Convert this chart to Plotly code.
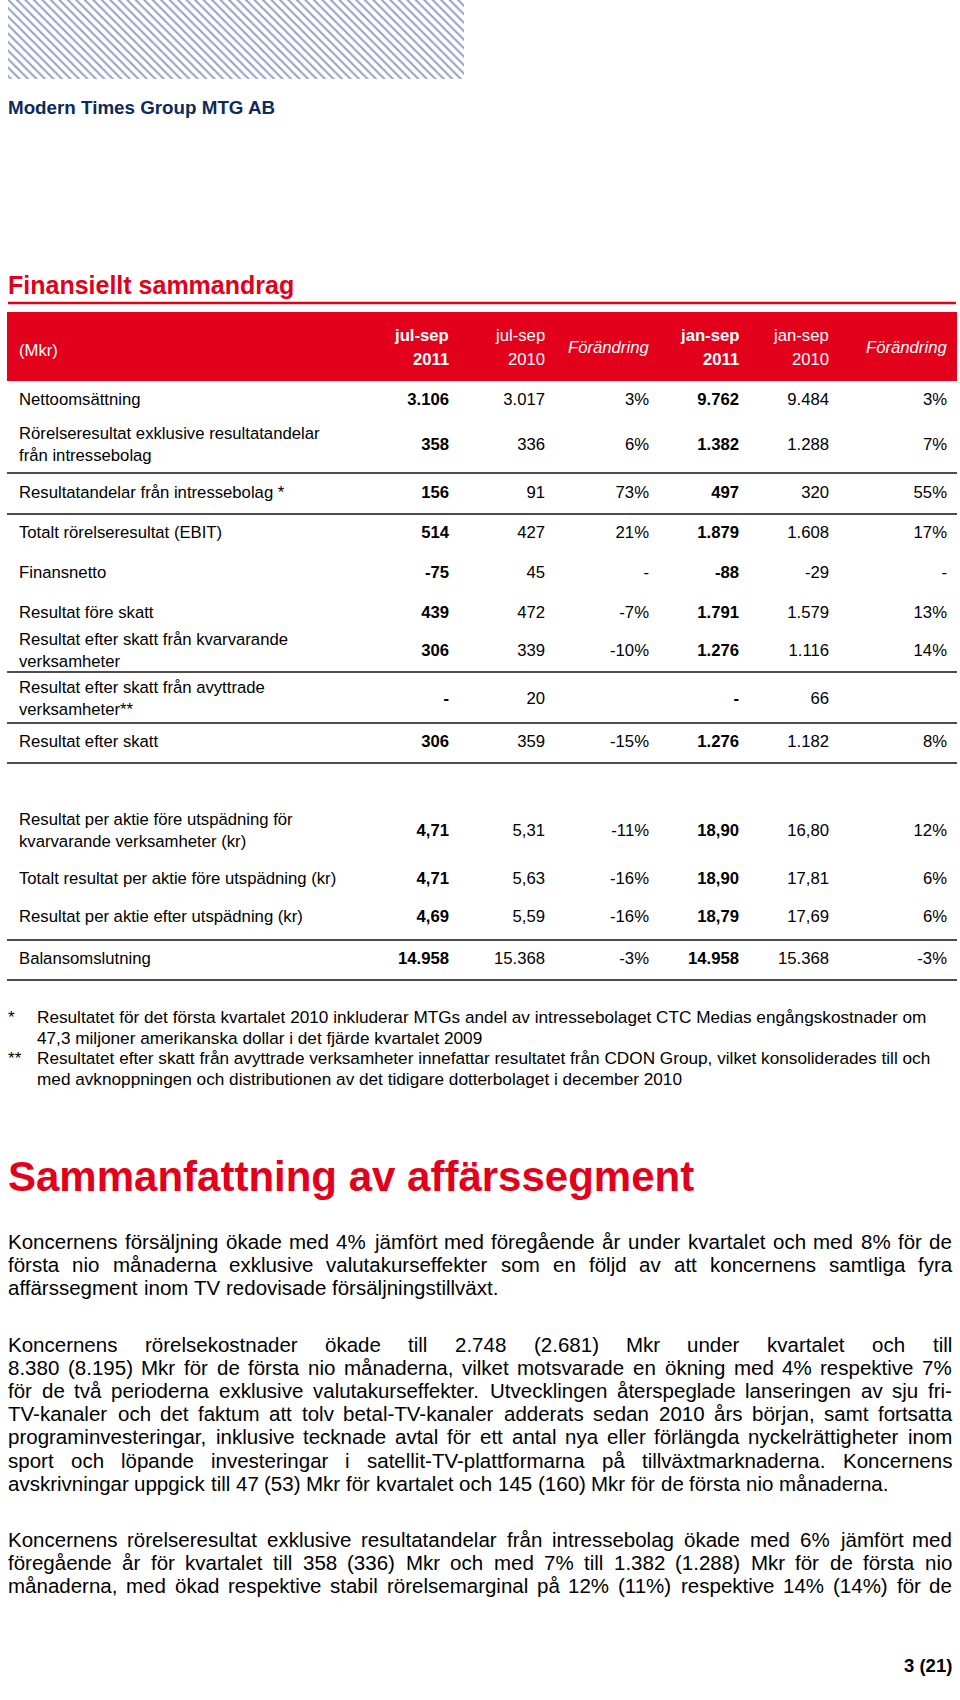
import plotly.graph_objects as go

# ---------------- data ----------------
row_labels = [
    "Nettoomsättning",
    "Rörelseresultat exklusive resultatandelar<br>från intressebolag",
    "Resultatandelar från intressebolag *",
    "Totalt rörelseresultat (EBIT)",
    "Finansnetto",
    "Resultat före skatt",
    "Resultat efter skatt från kvarvarande<br>verksamheter",
    "Resultat efter skatt från avyttrade<br>verksamheter**",
    "Resultat efter skatt",
    "Resultat per aktie före utspädning för<br>kvarvarande verksamheter (kr)",
    "Totalt resultat per aktie före utspädning (kr)",
    "Resultat per aktie efter utspädning (kr)",
    "Balansomslutning",
]
jul_sep_2011 = ["3.106", "358", "156", "514", "-75", "439", "306", "-", "306", "4,71", "4,71", "4,69", "14.958"]
jul_sep_2010 = ["3.017", "336", "91", "427", "45", "472", "339", "20", "359", "5,31", "5,63", "5,59", "15.368"]
change_q = ["3%", "6%", "73%", "21%", "-", "-7%", "-10%", "", "-15%", "-11%", "-16%", "-16%", "-3%"]
jan_sep_2011 = ["9.762", "1.382", "497", "1.879", "-88", "1.791", "1.276", "-", "1.276", "18,90", "18,90", "18,79", "14.958"]
jan_sep_2010 = ["9.484", "1.288", "320", "1.608", "-29", "1.579", "1.116", "66", "1.182", "16,80", "17,81", "17,69", "15.368"]
change_ytd = ["3%", "7%", "55%", "17%", "-", "13%", "14%", "", "8%", "12%", "6%", "6%", "-3%"]

header_top = ["jul-sep", "jul-sep", "", "jan-sep", "jan-sep", ""]
header_bottom = ["2011", "2010", "", "2011", "2010", ""]
header_single = ["", "", "Förändring", "", "", "Förändring"]
bold_cols = [True, False, False, True, False, False]

footnotes = [
    ("*", ["Resultatet för det första kvartalet 2010 inkluderar MTGs andel av intressebolaget CTC Medias engångskostnader om",
           "47,3 miljoner amerikanska dollar i det fjärde kvartalet 2009"]),
    ("**", ["Resultatet efter skatt från avyttrade verksamheter innefattar resultatet från CDON Group, vilket konsoliderades till och",
            "med avknoppningen och distributionen av det tidigare dotterbolaget i december 2010"]),
]

para1 = [
    "Koncernens försäljning ökade med 4% jämfört med föregående år under kvartalet och med 8% för de",
    "första nio månaderna exklusive valutakurseffekter som en följd av att koncernens samtliga fyra",
    "affärssegment inom TV redovisade försäljningstillväxt.",
]
para2 = [
    "Koncernens rörelsekostnader ökade till 2.748 (2.681) Mkr under kvartalet och till",
    "8.380 (8.195) Mkr för de första nio månaderna, vilket motsvarade en ökning med 4% respektive 7%",
    "för de två perioderna exklusive valutakurseffekter. Utvecklingen återspeglade lanseringen av sju fri-",
    "TV-kanaler och det faktum att tolv betal-TV-kanaler adderats sedan 2010 års början, samt fortsatta",
    "programinvesteringar, inklusive tecknade avtal för ett antal nya eller förlängda nyckelrättigheter inom",
    "sport och löpande investeringar i satellit-TV-plattformarna på tillväxtmarknaderna. Koncernens",
    "avskrivningar uppgick till 47 (53) Mkr för kvartalet och 145 (160) Mkr för de första nio månaderna.",
]
para3 = [
    "Koncernens rörelseresultat exklusive resultatandelar från intressebolag ökade med 6% jämfört med",
    "föregående år för kvartalet till 358 (336) Mkr och med 7% till 1.382 (1.288) Mkr för de första nio",
    "månaderna, med ökad respektive stabil rörelsemarginal på 12% (11%) respektive 14% (14%) för de",
]

# ---------------- layout constants ----------------
FONT = "Liberation Sans, Arial, sans-serif"
RED = "#e2001a"
NAVY = "#0d2a5c"
TXT = 16.7
BODY = 20.5
LEFT, RIGHT = 8, 952

row_y = [401, 446, 494, 534, 574, 614, 652, 700, 743, 832, 880, 918, 960]
separators = [473, 514, 672, 723, 763, 940, 980]
col_x = [449, 545, 649, 739, 829, 947]

# Arial / Helvetica advance widths (1/1000 em), used to justify body text
W = {" ": 278, "!": 278, "%": 889, "(": 333, ")": 333, "*": 389, ",": 278, "-": 333,
     ".": 278, ":": 278, ";": 278, "?": 556}
W.update({d: 556 for d in "0123456789"})
W.update(dict(zip("ABCDEFGHIJKLMNOPQRSTUVWXYZ",
                  [667, 667, 722, 722, 667, 611, 778, 722, 278, 500, 667, 556, 833,
                   722, 778, 667, 778, 722, 667, 611, 722, 667, 944, 667, 667, 611])))
W.update(dict(zip("abcdefghijklmnopqrstuvwxyz",
                  [556, 556, 500, 556, 556, 278, 556, 556, 222, 222, 500, 222, 833,
                   556, 556, 556, 556, 333, 500, 278, 556, 500, 722, 500, 500, 500])))
W.update({"å": 556, "ä": 556, "ö": 556, "Å": 667, "Ä": 667, "Ö": 778})


def text_w(s, size):
    return sum(W.get(ch, 556) for ch in s) * size / 1000


fig = go.Figure()

# hatched block at the top
fig.add_trace(go.Scatter(
    x=[8, 464, 464, 8, 8], y=[0, 0, 79, 79, 0], mode="lines", fill="toself",
    line=dict(width=0), fillcolor="rgba(0,0,0,0)",
    fillpattern=dict(shape="\\", fgcolor="#33457f", bgcolor="white", size=6, solidity=0.35),
    hoverinfo="skip", showlegend=False))

shapes = []
annotations = []


def note(x, y, text, size=TXT, color="black", xanchor="left", bold=False):
    if bold:
        text = "<b>" + text + "</b>"
    annotations.append(dict(x=x, y=y, xref="x", yref="y", text=text, showarrow=False,
                            xanchor=xanchor, yanchor="middle", borderpad=0, borderwidth=0,
                            font=dict(family=FONT, size=size, color=color)))


note(LEFT, 107, "Modern Times Group MTG AB", size=18.8, color=NAVY, bold=True)
note(LEFT, 285, "Finansiellt sammandrag", size=25, color=RED, bold=True)
shapes.append(dict(type="line", xref="x", yref="y", x0=8, x1=956, y0=303, y1=303,
                   line=dict(color=RED, width=2.5)))

# header band
shapes.append(dict(type="rect", xref="x", yref="y", x0=7, x1=957, y0=312, y1=381,
                   fillcolor=RED, line=dict(width=0), layer="below"))
note(19, 350, "(Mkr)", color="white")
for i, cx in enumerate(col_x):
    if header_single[i]:
        note(cx, 347, "<i>" + header_single[i] + "</i>", color="white", xanchor="right")
    else:
        note(cx, 335, header_top[i], color="white", xanchor="right", bold=bold_cols[i])
        note(cx, 359, header_bottom[i], color="white", xanchor="right", bold=bold_cols[i])

# table rows
fig.add_trace(go.Scatter(
    x=[19] * len(row_labels), y=row_y, text=row_labels, mode="text",
    textposition="middle right", textfont=dict(family=FONT, size=TXT, color="black"),
    hoverinfo="skip", showlegend=False))

columns = [jul_sep_2011, jul_sep_2010, change_q, jan_sep_2011, jan_sep_2010, change_ytd]
for i, vals in enumerate(columns):
    txt = ["<b>" + v + "</b>" if (bold_cols[i] and v) else v for v in vals]
    fig.add_trace(go.Scatter(
        x=[col_x[i]] * len(vals), y=row_y, text=txt, mode="text",
        textposition="middle left", textfont=dict(family=FONT, size=TXT, color="black"),
        hoverinfo="skip", showlegend=False))

for sy in separators:
    shapes.append(dict(type="line", xref="x", yref="y", x0=7, x1=957, y0=sy, y1=sy,
                       line=dict(color="#4d4d4d", width=2)))

# footnotes
fy = 1017
for mark, lines in footnotes:
    note(8, fy, mark, size=17.2)
    for ln in lines:
        note(37, fy, ln, size=17.2)
        fy += 20.5

note(LEFT, 1176, "Sammanfattning av affärssegment", size=42, color=RED, bold=True)

LEAD = 23.2


def paragraph(lines, y0, justify_last=False):
    for i, line in enumerate(lines):
        y = y0 + i * LEAD
        words = line.split(" ")
        widths = [text_w(w, BODY) for w in words]
        gap = text_w(" ", BODY)
        if (i < len(lines) - 1 or justify_last) and len(words) > 1:
            gap = max(gap * 0.6, (RIGHT - LEFT - sum(widths)) / (len(words) - 1))
        x = LEFT
        for w, wd in zip(words, widths):
            note(x, y, w, size=BODY)
            x += wd + gap


paragraph(para1, 1241)
paragraph(para2, 1344)
paragraph(para3, 1539, justify_last=True)

note(RIGHT, 1665, "3 (21)", size=18.5, xanchor="right", bold=True)

fig.update_layout(
    width=960, height=1700, margin=dict(l=0, r=0, t=0, b=0),
    paper_bgcolor="white", plot_bgcolor="white",
    xaxis=dict(range=[0, 960], visible=False, fixedrange=True),
    yaxis=dict(range=[1700, 0], visible=False, fixedrange=True),
    shapes=shapes, annotations=annotations, showlegend=False,
)

fig.write_html("out.html", config={"displayModeBar": False},
               post_script="document.body.style.margin='0px';")
